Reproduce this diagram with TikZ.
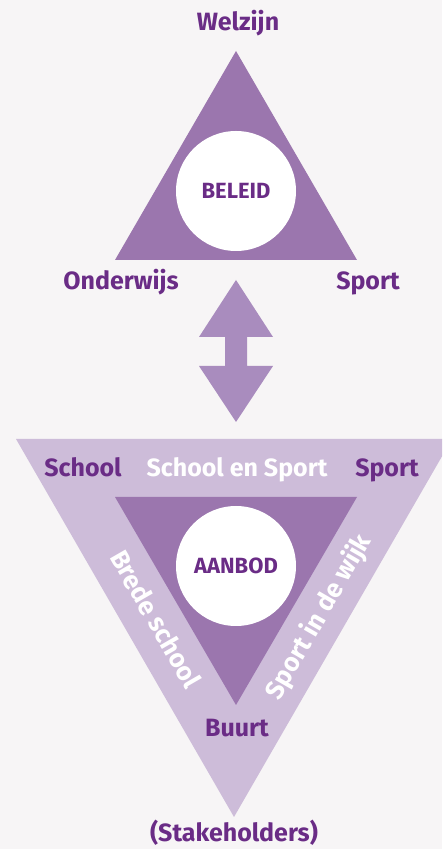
\documentclass[tikz,border=0pt]{standalone}
\usepackage{fontspec}
\setmainfont{Fira Sans}
\usetikzlibrary{positioning}
\definecolor{paper}{RGB}{247,245,246}
\definecolor{beleidpurple}{RGB}{155,118,174}
\definecolor{arrowpurple}{RGB}{169,140,190}
\definecolor{lilac}{RGB}{205,188,217}
\definecolor{ink}{RGB}{106,44,134}
\tikzset{
	cornertext/.style={text=ink, anchor=base, inner sep=0pt, font=\bfseries\fontsize{25}{30}\selectfont},
	bandtext/.style={text=white, inner sep=0pt, font=\bfseries\fontsize{26}{30}\selectfont},
	disc/.style={circle, fill=white, minimum size=120pt, inner sep=0pt},
	coretext/.style={text=ink, font=\bfseries\fontsize{22}{26}\selectfont}
}
\begin{document}
\begin{tikzpicture}[x=1pt,y=1pt]
				\fill[paper] (0,0) rectangle (442,849);
				\useasboundingbox (0,0) rectangle (442,849);
				\clip (0,0) rectangle (442,849);

				\fill[beleidpurple] (236,798) -- (357,589) -- (115,589) -- cycle;
				\node (beleid) at (236,658) [disc] {};
				\node at (beleid) [coretext] {BELEID};
				\node (welzijn) at (238,818) [cornertext] {Welzijn};
				\node (onderwijs) at (121,559) [cornertext] {Onderwijs};
				\node (sporttop) at (368,559) [cornertext] {Sport};

				\fill[arrowpurple] (236,569) -- (273,512) -- (247,512) -- (247,483) -- (273,483)
					-- (236,427) -- (199,483) -- (225,483) -- (225,512) -- (199,512) -- cycle;

				\fill[lilac] (16,410) -- (452,410) -- (234,32) -- cycle;
				\fill[beleidpurple] (115,352) -- (357,352) -- (236,144) -- cycle;
				\node (aanbod) at (236,283) [disc] {};
				\node at (aanbod) [coretext] {AANBOD};

				\node (school) at (83,372) [cornertext] {School};
				\node (schoolsport) at (237,372) [cornertext, text=white] {School en Sport};
				\node (sport) at (387,372) [cornertext] {Sport};
				\node (brede) at (156,230) [bandtext, rotate=-60] {Brede school};
				\node (wijk) at (319,232) [bandtext, rotate=60] {Sport in de wijk};
				\node (buurt) at (237,112) [cornertext] {Buurt};
				\node (stakeholders) at (234,7) [cornertext] {(Stakeholders)};
			\end{tikzpicture}
\end{document}
